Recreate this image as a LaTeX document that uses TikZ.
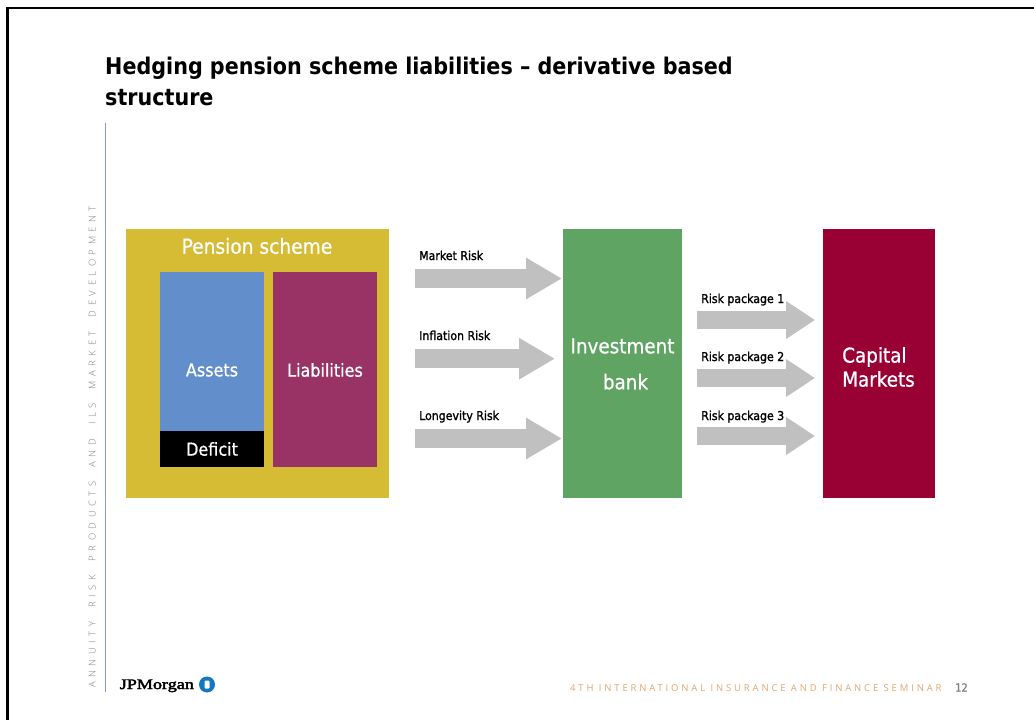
\documentclass[tikz,border=0pt]{standalone}
\usepackage{fontspec}
\setmainfont{DejaVu Sans Condensed}
\newfontfamily\semifont{DejaVu Sans Condensed Bold}
\newfontfamily\labelfont[FakeBold=0.8]{DejaVu Sans Condensed}
\newfontfamily\smallfont[FakeBold=1.4]{DejaVu Sans Condensed}
\newfontfamily\sidefont[LetterSpace=48,WordSpace=2]{Open Sans Light}
\newfontfamily\footfont[LetterSpace=30]{Open Sans}
\newfontfamily\logofont[FakeBold=2.5]{Liberation Serif}
\usetikzlibrary{arrows.meta}
\definecolor{schemeyellow}{HTML}{D6BB35}
\definecolor{assetblue}{HTML}{628FCB}
\definecolor{liabmagenta}{HTML}{993366}
\definecolor{bankgreen}{HTML}{5FA463}
\definecolor{capitalred}{HTML}{990033}
\definecolor{arrowgrey}{HTML}{C0C0C0}
\definecolor{ruleblue}{HTML}{7F9DC7}
\definecolor{footorange}{HTML}{E3A66E}
\definecolor{logoblue}{HTML}{1478C0}
\tikzset{
  x=1pt,y=-1pt,
  panel/.style={inner sep=0pt,outer sep=0pt,text=white,font=\labelfont\fontsize{20.7}{23}\selectfont,align=center},
  smalltext/.style={inner sep=0pt,anchor=base west,font=\smallfont\fontsize{12.2}{13}\selectfont},
  bigarrow/.style={arrowgrey,line width=19.5pt,-{Triangle[length=36pt,width=39pt]}},
  smallarrow/.style={arrowgrey,line width=18pt,-{Triangle[length=29pt,width=36pt]}},
}
\begin{document}
\begin{tikzpicture}
\useasboundingbox (0,0) rectangle (1034,720);
\fill[white] (0,0) rectangle (1034,720);
\coordinate (frameBL) at (7.5,720);
\coordinate (frameTL) at (7.5,8);
\coordinate (frameTR) at (1034,8);
\draw[line width=2.4pt] (frameBL) -- (frameTL) -- (frameTR);
\node[inner sep=0pt,anchor=base west,font=\semifont\fontsize{23}{30}\selectfont] (title) at (105,74.5) {Hedging pension scheme liabilities – derivative based};
\node[inner sep=0pt,anchor=base west,font=\semifont\fontsize{23}{30}\selectfont] (title2) at (105,105) {structure};
\coordinate (ruleT) at (105.5,123);
\coordinate (ruleB) at (105.5,692);
\draw[ruleblue,line width=1.8pt] (ruleT) -- (ruleB);
\node[rotate=90,anchor=base west,inner sep=0pt,text=gray,font=\sidefont\fontsize{9.5}{10}\selectfont] (side) at (95.5,688) {ANNUITY RISK PRODUCTS AND ILS MARKET DEVELOPMENT};
\node[panel,fill=schemeyellow,minimum width=263pt,minimum height=269pt,anchor=north west] (scheme) at (126,229) {};
\node[panel,anchor=center] (schemeT) at (257,246) {Pension scheme};
\node[panel,fill=assetblue,minimum width=104pt,minimum height=159pt,anchor=north west] (assets) at (160,272) {};
\node[panel,font=\labelfont\fontsize{17.8}{20}\selectfont] (assetsT) at (212,370) {Assets};
\node[panel,fill=black,minimum width=104pt,minimum height=36pt,anchor=north west,font=\labelfont\fontsize{17.8}{20}\selectfont] (deficit) at (160,431) {Deficit};
\node[panel,fill=liabmagenta,minimum width=104pt,minimum height=195pt,anchor=north west] (liab) at (273,272) {};
\node[panel,font=\labelfont\fontsize{17.8}{20}\selectfont] (liabT) at (325,370) {Liabilities};
\node[panel,fill=bankgreen,minimum width=119pt,minimum height=269pt,anchor=north west] (bank) at (563,229) {};
\node[panel,font=\labelfont\fontsize{20.4}{36}\selectfont] (bankT) at (622.5,364) {Investment\\\hspace*{6pt}bank};
\node[panel,fill=capitalred,minimum width=112pt,minimum height=269pt,anchor=north west] (capital) at (823,229) {};
\node[panel,font=\labelfont\fontsize{20.4}{24}\selectfont,align=left] (capitalT) at (878.5,367) {Capital\\Markets};
\coordinate (a1) at (415,278.5); \coordinate (b1) at (562,278.5);
\coordinate (a2) at (415,358.7); \coordinate (b2) at (555,358.7);
\coordinate (a3) at (415,438.5); \coordinate (b3) at (562,438.5);
\draw[bigarrow] (a1) -- (b1);
\draw[bigarrow] (a2) -- (b2);
\draw[bigarrow] (a3) -- (b3);
\coordinate (c1) at (697,320); \coordinate (d1) at (815,320);
\coordinate (c2) at (697,378); \coordinate (d2) at (815,378);
\coordinate (c3) at (697,436); \coordinate (d3) at (815,436);
\draw[smallarrow] (c1) -- (d1);
\draw[smallarrow] (c2) -- (d2);
\draw[smallarrow] (c3) -- (d3);
\node[smalltext] (l1) at (419,260) {Market Risk};
\node[smalltext] (l2) at (419,340) {Inflation Risk};
\node[smalltext] (l3) at (419,420) {Longevity Risk};
\node[smalltext] (r1) at (701,303) {Risk package 1};
\node[smalltext] (r2) at (701,361) {Risk package 2};
\node[smalltext] (r3) at (701,420) {Risk package 3};
\node[inner sep=0pt,anchor=base west,xscale=1.25,font=\logofont\fontsize{14.5}{14}\selectfont] (logo) at (119.5,689) {JPMorgan};
\node[circle,fill=logoblue,minimum size=16pt,inner sep=0pt] (logoO) at (207,684.5) {};
\node[fill=white,rounded corners=1pt,minimum width=5pt,minimum height=8pt,inner sep=0pt] (logoI) at (logoO) {};
\node[inner sep=0pt,anchor=base west,text=footorange,font=\footfont\fontsize{9.5}{10}\selectfont] (foot) at (570,691.5) {4TH INTERNATIONAL INSURANCE AND FINANCE SEMINAR};
\node[inner sep=0pt,anchor=base west,text=gray,font=\labelfont\fontsize{11}{12}\selectfont] (page) at (955,691.5) {12};
\end{tikzpicture}
\end{document}
